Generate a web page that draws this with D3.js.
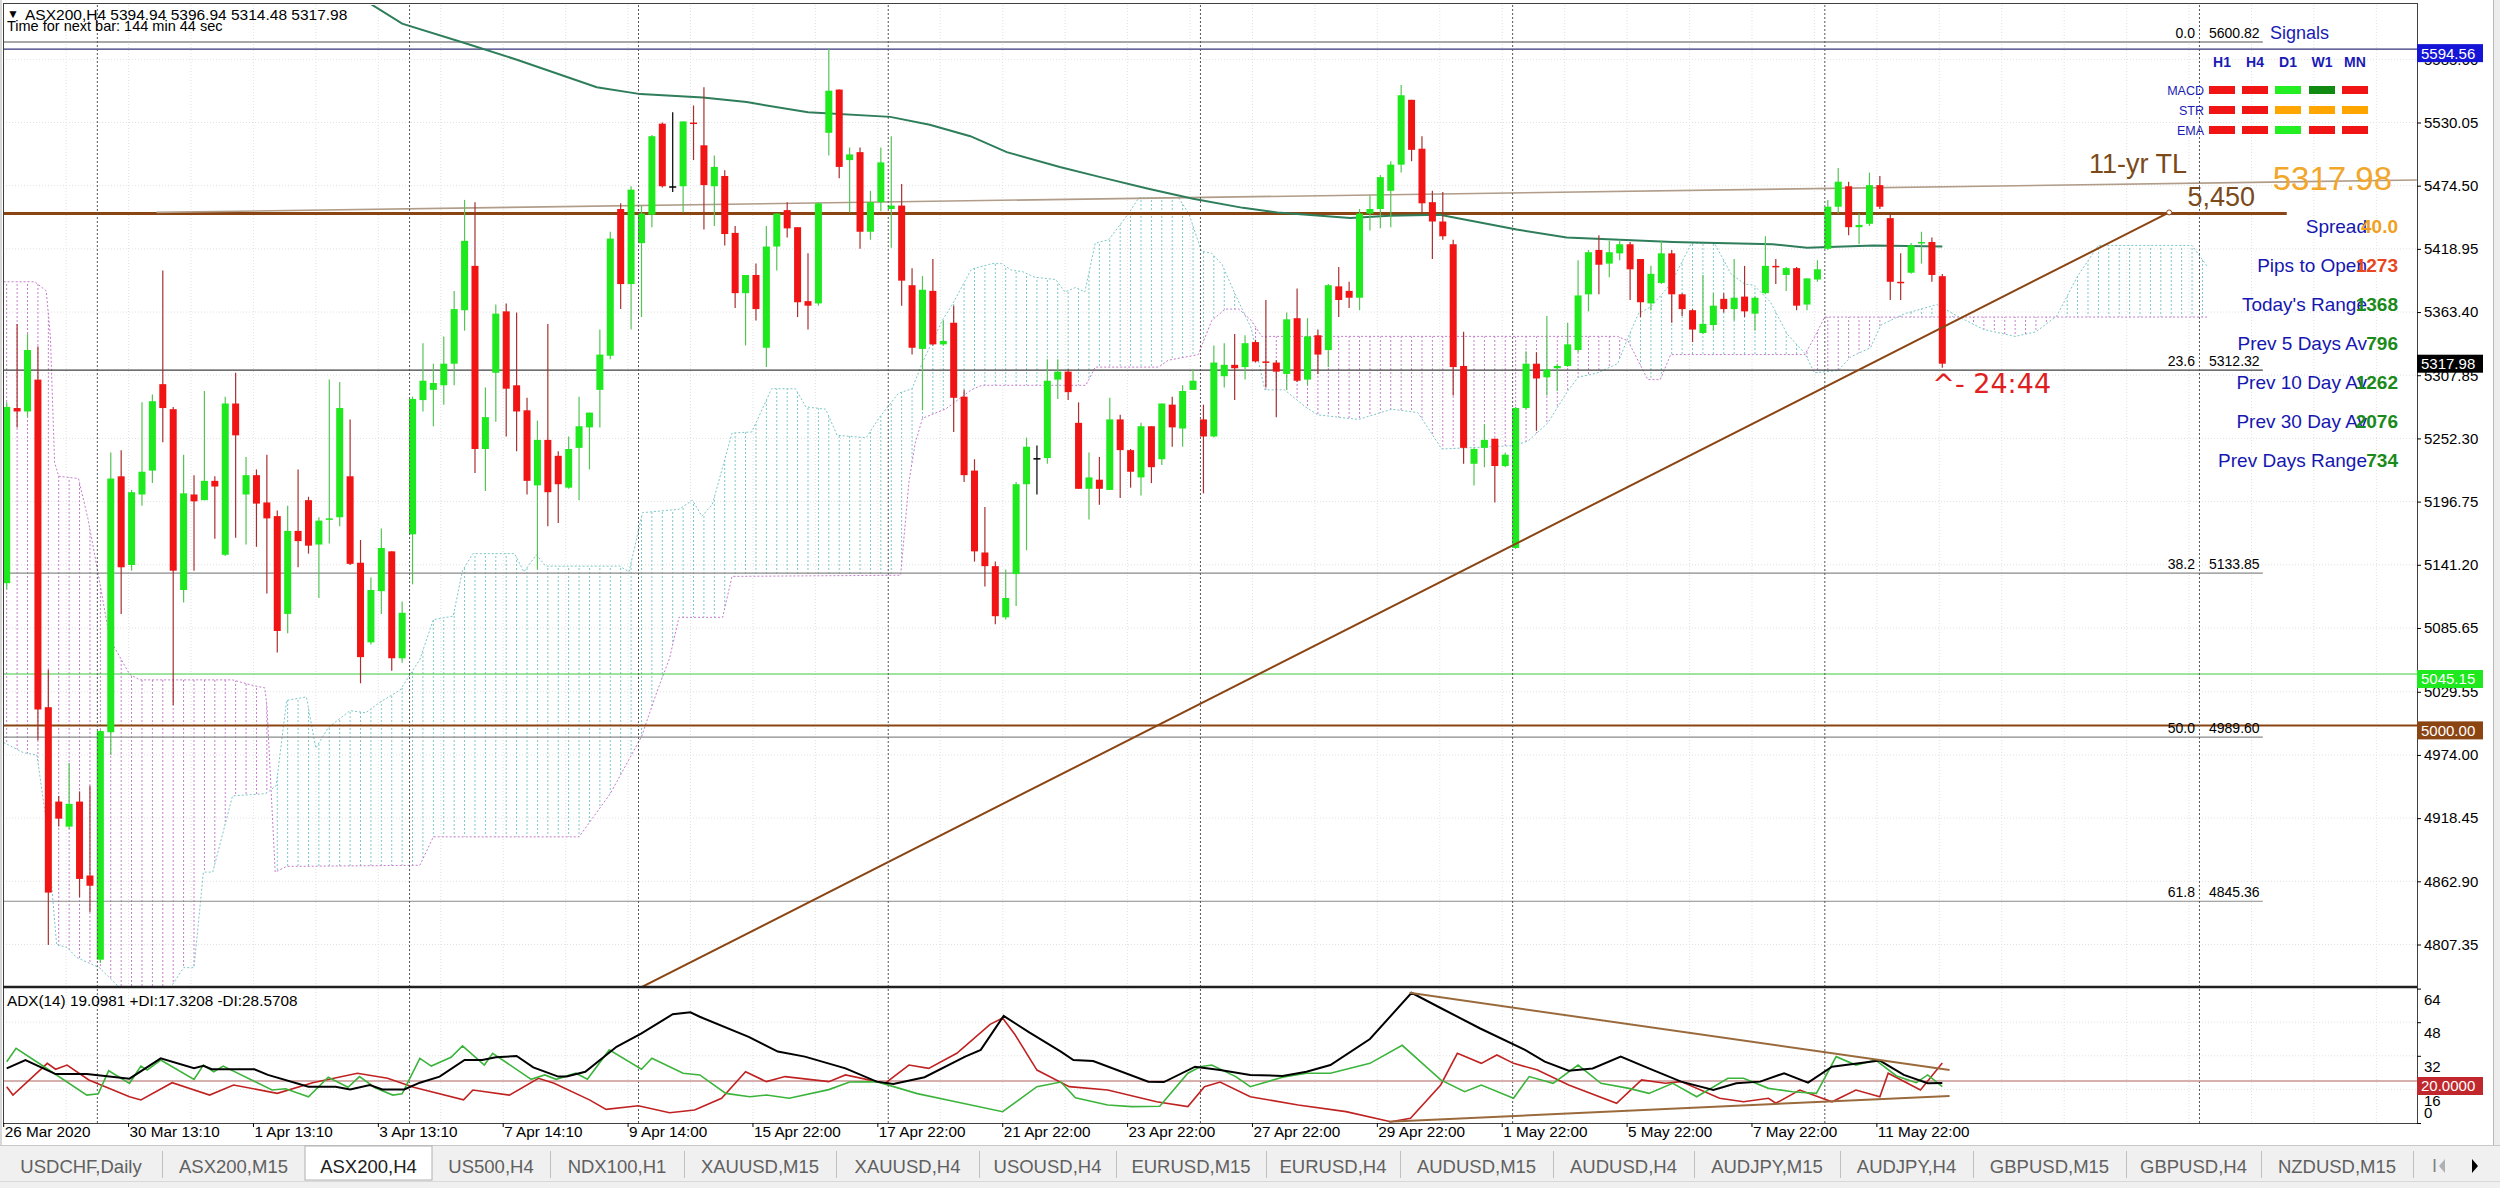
<!DOCTYPE html>
<html><head><meta charset="utf-8">
<script src="https://cdn.jsdelivr.net/npm/d3@7"></script>
<style>
body{margin:0;background:#fff;}
svg{display:block;font-family:"Liberation Sans",Arial,sans-serif;}
</style></head><body>
<svg id="c" width="2500" height="1188"></svg>
<script>
// ---------------- DATA ----------------
const open=[5125,5279,5276,5304,5016,4933,4911,4933,4868,4794,4994,5219,5141,5203,5224,5300,5278,5119,5203,5198,5215,5150,5283,5203,5220,5196,5184,5098,5171,5198,5159,5181,5183,5219,5143,5073,5118,5153,5059,5168,5286,5295,5299,5318,5365,5404,5243,5310,5364,5299,5277,5211,5251,5237,5209,5244,5262,5295,5325,5454,5388,5424,5449,5529,5474,5474,5530,5510,5474,5483,5433,5380,5396,5332,5421,5453,5438,5373,5371,5521,5559,5497,5504,5434,5460,5454,5457,5387,5331,5382,5335,5354,5289,5224,5152,5140,5095,5133,5212,5235,5235,5304,5311,5266,5208,5216,5207,5269,5242,5218,5263,5234,5282,5261,5295,5269,5254,5307,5317,5315,5337,5320,5319,5309,5358,5304,5343,5330,5386,5382,5376,5450,5454,5470,5493,5550,5507,5460,5443,5423,5316,5230,5244,5252,5228,5156,5279,5318,5306,5314,5316,5330,5379,5418,5406,5415,5423,5410,5371,5389,5415,5379,5365,5345,5352,5375,5366,5377,5362,5380,5404,5396,5402,5370,5392,5419,5456,5474,5438,5441,5475,5446,5390,5398,5424,5425,5394.94];
const high=[5284,5353,5344,5333,5049,4938,4967,4942,4947,4996,5240,5242,5207,5284,5291,5400,5280,5238,5220,5294,5219,5289,5310,5236,5225,5238,5189,5193,5225,5201,5183,5304,5302,5269,5163,5130,5173,5153,5109,5289,5336,5318,5342,5382,5462,5460,5297,5370,5371,5363,5288,5268,5353,5241,5254,5289,5275,5348,5434,5459,5474,5457,5519,5530,5539,5531,5545,5561,5501,5488,5439,5396,5406,5439,5450,5460,5438,5415,5460,5595,5559,5508,5508,5470,5508,5518,5476,5402,5395,5410,5356,5369,5295,5234,5192,5144,5137,5214,5253,5246,5322,5322,5313,5284,5240,5236,5288,5273,5243,5266,5263,5283,5289,5299,5313,5282,5334,5336,5344,5343,5339,5374,5321,5363,5384,5358,5348,5388,5403,5390,5454,5466,5484,5496,5563,5550,5518,5470,5469,5427,5346,5244,5265,5252,5240,5280,5329,5328,5360,5318,5354,5409,5418,5431,5426,5427,5425,5410,5404,5426,5418,5380,5366,5396,5380,5380,5410,5404,5377,5430,5410,5403,5403,5393,5409,5462,5490,5478,5450,5486,5483,5449,5415,5424,5434,5429,5396.94];
const low=[5120,5262,5271,4987,4807,4911,4909,4849,4836,4791,4974,5098,5136,5193,5213,5249,5018,5108,5136,5198,5164,5149,5165,5159,5157,5116,5064,5081,5139,5151,5112,5160,5175,5141,5037,5071,5098,5048,5055,5124,5276,5263,5282,5299,5347,5222,5206,5267,5254,5241,5203,5137,5175,5178,5208,5198,5225,5262,5322,5366,5348,5359,5438,5473,5469,5451,5497,5436,5439,5422,5367,5334,5356,5315,5400,5429,5359,5348,5369,5501,5481,5451,5419,5427,5452,5420,5369,5326,5277,5334,5334,5258,5214,5144,5122,5089,5093,5105,5154,5203,5230,5287,5286,5208,5181,5194,5207,5200,5209,5202,5213,5229,5245,5245,5295,5204,5253,5297,5286,5304,5319,5297,5271,5295,5302,5299,5309,5315,5359,5367,5365,5435,5437,5438,5486,5496,5450,5410,5427,5290,5230,5211,5227,5196,5227,5155,5278,5259,5290,5294,5315,5328,5364,5379,5394,5409,5374,5359,5365,5388,5354,5360,5337,5344,5347,5363,5356,5359,5347,5379,5388,5382,5365,5365,5390,5418,5450,5431,5423,5439,5454,5374,5374,5397,5406,5390,5314.48];
const close=[5280,5276,5330,5014,4853,4918,4931,4865,4859,4995,5217,5139,5205,5223,5285,5279,5136,5204,5197,5215,5210,5283,5255,5220,5195,5182,5083,5171,5162,5158,5180,5182,5279,5142,5060,5119,5156,5059,5099,5287,5303,5301,5318,5366,5426,5243,5271,5362,5296,5276,5215,5251,5205,5212,5243,5263,5275,5326,5428,5388,5471,5450,5518,5474,5474,5531,5529,5475,5491,5432,5380,5396,5366,5421,5450,5437,5372,5369,5459,5558,5491,5502,5434,5460,5495,5457,5391,5332,5383,5335,5338,5288,5220,5153,5140,5096,5112,5212,5245,5235,5303,5311,5293,5208,5218,5208,5269,5242,5223,5263,5227,5283,5262,5294,5303,5254,5319,5317,5314,5336,5320,5319,5311,5357,5303,5342,5326,5387,5374,5376,5450,5454,5482,5493,5554,5506,5459,5443,5430,5315,5244,5243,5251,5228,5238,5279,5318,5305,5313,5316,5335,5378,5416,5405,5416,5423,5401,5372,5397,5415,5379,5366,5348,5353,5369,5366,5376,5364,5376,5404,5403,5402,5369,5393,5401,5456,5478,5438,5440,5475,5456,5390,5389,5422,5425,5396,5317.98];

const timeIdx=[0,12,24,36,48,60,72,84,96,108,120,132,144,156,168,180];
const timeLabels=["26 Mar 2020","30 Mar 13:10","1 Apr 13:10","3 Apr 13:10","7 Apr 14:10","9 Apr 14:00","15 Apr 22:00","17 Apr 22:00","21 Apr 22:00","23 Apr 22:00","27 Apr 22:00","29 Apr 22:00","1 May 22:00","5 May 22:00","7 May 22:00","11 May 22:00"];
const priceTicks=[5585.60,5530.05,5474.50,5418.95,5363.40,5307.85,5252.30,5196.75,5141.20,5085.65,5029.55,4974.00,4918.45,4862.90,4807.35];
const adxTicks=[64,48,32,16,0];
const weekSep=[9,39,61,85,115,145,175,211];

const maLine=[[34.5,5637],[38,5617],[44,5600],[49.1,5585],[56.7,5561],[60.9,5555],[66.9,5552],[71.1,5548],[77,5539],[84.9,5535],[88.7,5528],[92.6,5518],[96.1,5504],[101.2,5491],[105.1,5482],[109.6,5472],[114,5463],[118.8,5455],[122.1,5451],[129.1,5446],[132.9,5448],[137.7,5449],[145.1,5436],[149.9,5429],[160.1,5425],[169.7,5423],[173,5420],[179.4,5422],[186,5421]];

const spanA=[[-0.3,4985],[1.6,4976],[2.9,4974],[3.8,4916],[4.8,4807],[5.8,4805],[6.7,4796],[8.9,4787],[10.9,4769],[15.7,4769],[17,4787],[18,4787],[18.9,4871],[19.8,4871],[21.7,4938],[24.9,4940],[25.9,4947],[26.9,5022],[28.8,5025],[29.7,4980],[30.9,4998],[33,5013],[34.5,5011],[35.8,5020],[37.8,5031],[39.7,5058],[41,5093],[42.9,5096],[43.8,5136],[44.8,5151],[48.8,5151],[49.7,5135],[50.9,5150],[51.8,5140],[58.9,5140],[59.8,5135],[61.1,5187],[64.6,5190],[65.9,5198],[66.8,5184],[67.8,5194],[69.7,5257],[71.6,5258],[73.5,5296],[75.8,5296],[76.8,5280],[78.7,5278],[79.8,5255],[82.6,5253],[83.8,5270],[85.7,5292],[87,5296],[88,5319],[89.9,5356],[90.8,5369],[92.7,5401],[94.7,5406],[95.6,5406],[96.6,5400],[97.6,5399],[98.8,5394],[100.8,5392],[101.7,5381],[102.7,5385],[103.6,5381],[104.6,5424],[105.9,5427],[107.8,5450],[108.8,5464],[112.6,5464],[113.6,5450],[114.8,5417],[115.8,5415],[116.8,5405],[118,5380],[119.6,5349],[120.9,5295],[122.8,5295],[124.8,5280],[126,5273],[129.9,5269],[133.1,5278],[135.6,5275],[136.9,5257],[137.9,5243],[144.9,5246],[146.2,5250],[148.1,5266],[150,5294],[151,5306],[152.9,5310],[154.8,5318],[155.8,5341],[156.8,5362],[158,5368],[159.9,5388],[161.9,5424],[164.1,5424],[165.7,5397],[167,5388],[167.9,5387],[169.5,5372],[171.1,5344],[172.8,5327],[173.7,5310],[176,5312],[177.2,5324],[179.1,5332],[180.1,5352],[182.4,5362],[185.5,5370],[187.4,5360],[190,5348],[193,5342],[195,5346],[197,5360],[199,5395],[201,5422],[210,5422],[211.5,5403]];
const spanB=[[-0.3,5390],[2.7,5390],[3.8,5382],[4.2,5342],[4.6,5231],[5,5219],[6.9,5217],[7.8,5182],[8.8,5133],[9.9,5076],[11.8,5045],[12.8,5040],[21.7,5040],[23.7,5035],[24.8,5033],[25,5018],[25.8,4871],[26.9,4876],[39.7,4877],[41,4902],[55,4902],[58,4940],[61,4990],[62.5,5030],[63.7,5059],[64.6,5095],[68.8,5095],[69.7,5131],[85.9,5132],[86.7,5214],[87.3,5248],[88,5270],[90.2,5278],[92.7,5295],[93.7,5299],[103.7,5299],[104.6,5315],[110.7,5315],[111.6,5321],[114.5,5326],[115.8,5356],[117.1,5366],[118.4,5366],[119.6,5356],[120.6,5342],[154.8,5342],[155.8,5338],[157.7,5304],[158.9,5304],[159.9,5326],[172.8,5326],[173.7,5341],[174.7,5359],[211.5,5359]];

const adxLine=[[0,26],[1.8,30],[4.7,23.3],[7.7,23.3],[11.8,21.1],[14.8,30.8],[18,26.1],[18.9,27.2],[19.7,25.6],[23.8,25.6],[25.1,22.9],[29,17.3],[31.6,17.3],[33,16],[34.9,18.1],[36.1,16],[38.2,16],[39.7,19.2],[41.6,22.1],[44,30],[45.7,30],[47,31.3],[49,31.9],[50.6,26.5],[53,22.1],[53.8,22.1],[55.6,24.4],[58.6,36.3],[61,42.7],[64,51.8],[65.7,52.7],[66.6,50.6],[71.3,41],[74.1,34],[76.7,31.6],[80.6,26],[83.6,19.7],[85.2,18.6],[88.2,21.8],[92.1,31.6],[93.6,34.8],[95.8,51],[98.3,43],[101.3,34],[102.5,30],[104.4,29.5],[109.7,19.7],[111.2,19.5],[114.2,26.8],[116.6,25.2],[119.5,22.9],[122.6,22.4],[124.9,24.4],[127.2,27.6],[131,40],[135,62],[137.7,55],[141.6,45],[145.9,34.8],[147.8,29.2],[150.1,24.9],[152.4,26],[155.1,31.6],[157.8,26],[160.9,19.7],[164,15.7],[166.2,18.9],[168.5,19.7],[170.8,23.7],[173.1,19.2],[175.4,26.8],[180,29.7],[182.3,22.9],[184.6,18.9],[186,19.1]];
const plusDI=[[0,29.2],[0.9,35.6],[3.2,28.1],[7.7,13.3],[8.8,13.9],[9.8,24.9],[11.8,18.9],[12.9,27.1],[13.5,25.2],[14.8,30],[18,20.8],[18.9,27.6],[19.9,24.4],[20.8,27.1],[25.5,15.7],[26.8,16.3],[29,12.5],[30.9,21.8],[32.8,17],[33.9,22.1],[35.4,16.8],[37.1,13.3],[38,13.9],[39.7,30.8],[40.8,27.1],[42.7,31.3],[43.8,36.7],[45.9,27.6],[46.7,33.2],[50.4,20.8],[51.7,22.9],[52.8,20.8],[54.7,23.7],[55.8,20.8],[57.9,34.8],[61,25.6],[62,30.8],[65,23.7],[66.6,22.9],[69.1,14.1],[71.4,12.5],[73,13.3],[75.2,11.8],[79,15.9],[81,19.5],[83.6,19.7],[87.5,14],[91.3,10],[95.7,5.4],[99,17.3],[101.3,19.5],[102.7,12],[105.8,8.6],[108.1,7.8],[110.8,8],[113.5,23.7],[114.7,26.8],[115.8,27.6],[118.1,22.1],[119.5,17.3],[122.6,21.8],[124.9,23.7],[127.2,23.7],[131,28.4],[134.1,37],[137.8,20.5],[140.1,14.9],[141.7,18.1],[144.8,11.8],[146.3,22.1],[148.6,18.9],[151,27.6],[153.2,18.9],[155.9,16.5],[157.8,14.1],[160.1,18.9],[162.4,12.5],[165.4,21.3],[166.9,21.3],[169.3,16.5],[171.6,14.9],[173.9,14.1],[175.8,31.6],[177.7,27.6],[179.6,30],[181.6,22.4],[183.5,19.2],[184.6,22.9],[186,17.3]];
const minusDI=[[0,17.3],[0.6,13.3],[3.9,28.4],[4.7,25.6],[5.8,27.6],[7.9,20.5],[11.8,12.5],[12.9,11],[15.9,19.2],[19.5,13.3],[21.8,18.1],[26,14.1],[29.4,19.2],[33.7,23.7],[36.6,21.3],[39.1,17],[43.9,11],[44.8,15.7],[48.3,13.3],[51.1,21.3],[52.6,18.9],[56,11],[57.6,6.5],[60.7,8.2],[63.7,4.9],[66.1,6.2],[68.7,11.8],[71,24.4],[73,19.7],[74.8,22.1],[79,19.7],[80.6,22.9],[84.4,18.9],[86.7,27.6],[88.6,26],[91.3,33.2],[94.5,47],[95.7,50],[96.9,42],[99,25.2],[102.1,17.3],[105.8,15.7],[110.5,10.1],[113.5,7.8],[115.1,17.3],[116.6,19.5],[119.5,12.5],[124.1,8.6],[128.7,5.4],[133,0.6],[134.9,2.2],[137.8,18.1],[139.4,33.2],[141.7,28.4],[143.2,32.4],[144.8,28.4],[147.1,25.2],[150.1,18.1],[154.7,9.4],[157.1,20.5],[159.4,18.9],[160.9,19.7],[164.6,11.8],[166.9,10.1],[169.3,11.8],[170,9.4],[172.3,15.7],[175.4,10.1],[177.7,15.7],[180,12.5],[180.8,23.7],[183.9,15.7],[186,28.6]];
const adxUpperTL=[[134.8,62],[186.7,25.2]];
const adxLowerTL=[[132.8,0.6],[186.7,12.9]];

const fibLevels=["0.0","23.6","38.2","50.0","61.8"];
const fibPrices=[5600.82,5312.32,5133.85,4989.60,4845.36];
const trendLine=[[60.6,4768],[207.8,5451]];
const elevenYrTL=[[14.4,5451],[231.6,5479.5]];

const infoLabels=["Spread","Pips to Open","Today's Range","Prev 5 Days Av","Prev 10 Day Av","Prev 30 Day Av","Prev Days Range"];
const infoValues=["40.0","1273","1368","796","1262","2076","734"];
const infoColors=["#f0a020","#e8461c","#1a8a1a","#1a8a1a","#1a8a1a","#1a8a1a","#1a8a1a"];
const sigCols=["H1","H4","D1","W1","MN"];
const sigRows=["MACD","STR","EMA"];
const sigState=[["dn","dn","up","upStrong","dn"],["dn","dn","flat","flat","flat"],["dn","dn","up","dn","dn"]];
const tabNames=["USDCHF,Daily","ASX200,M15","ASX200,H4","US500,H4","NDX100,H1","XAUUSD,M15","XAUUSD,H4","USOUSD,H4","EURUSD,M15","EURUSD,H4","AUDUSD,M15","AUDUSD,H4","AUDJPY,M15","AUDJPY,H4","GBPUSD,M15","GBPUSD,H4","NZDUSD,M15"];

// ---------------- LAYOUT ----------------
const W=2500,H=1188,L=3,R=2417,T=5,MB=987,AB=1123;
const x=d3.scaleLinear().domain([0,186]).range([6.7,1942.3]);
const y=d3.scaleLinear().domain([4807.35,5530.05]).range([944.5,122.5]);
const ya=d3.scaleLinear().domain([0,64]).range([AB,988.6]);
const svg=d3.select("#c");
svg.append("rect").attr("width",W).attr("height",H).attr("fill","#fff");
const defs=svg.append("defs");
defs.append("clipPath").attr("id","mainClip").append("rect").attr("x",L).attr("y",T).attr("width",R-L).attr("height",MB-T);
defs.append("clipPath").attr("id","adxClip").append("rect").attr("x",L).attr("y",MB+1).attr("width",R-L).attr("height",AB-MB-1);

function pattern(id,color){
  const p=defs.append("pattern").attr("id",id).attr("patternUnits","userSpaceOnUse")
    .attr("x",x(0)-0.5).attr("y",0).attr("width",x(1)-x(0)).attr("height",4);
  p.append("rect").attr("x",0).attr("y",0).attr("width",1).attr("height",2).attr("fill",color);
}
const TEAL="#7cc6c6", VIOLET="#c47ccc";
pattern("tealPat",TEAL); pattern("violPat",VIOLET);
function polyTo(pts,edge){
  const P=pts.map(d=>[x(d[0]),y(d[1])]);
  return "M"+P.map(p=>p[0].toFixed(1)+","+p[1].toFixed(1)).join("L")+`L${P[P.length-1][0]},${edge}L${P[0][0]},${edge}Z`;
}
defs.append("clipPath").attr("id","belowA").append("path").attr("d",polyTo(spanA,3000));
defs.append("clipPath").attr("id","aboveA").append("path").attr("d",polyTo(spanA,-3000));
defs.append("clipPath").attr("id","belowB").append("path").attr("d",polyTo(spanB,3000));
defs.append("clipPath").attr("id","aboveB").append("path").attr("d",polyTo(spanB,-3000));

// grid
const grid=svg.append("g").attr("stroke","#e2e2e2").attr("stroke-dasharray","1,2");
priceTicks.forEach(v=>grid.append("line").attr("x1",L).attr("x2",R).attr("y1",y(v)).attr("y2",y(v)));
[48,32,16].forEach(v=>grid.append("line").attr("x1",L).attr("x2",R).attr("y1",ya(v)).attr("y2",ya(v)));
for(let i=0;i<=234;i+=6){const gx=x(i)-3; if(gx>L&&gx<R) grid.append("line").attr("x1",gx).attr("x2",gx).attr("y1",T).attr("y2",AB);}

// main panel content
const main=svg.append("g").attr("clip-path","url(#mainClip)");
main.append("g").attr("clip-path","url(#belowA)").append("g").attr("clip-path","url(#aboveB)")
  .append("rect").attr("x",0).attr("y",0).attr("width",W).attr("height",H).attr("fill","url(#tealPat)");
main.append("g").attr("clip-path","url(#aboveA)").append("g").attr("clip-path","url(#belowB)")
  .append("rect").attr("x",0).attr("y",0).attr("width",W).attr("height",H).attr("fill","url(#violPat)");
const ln=d3.line().x(d=>x(d[0])).y(d=>y(d[1]));
main.append("path").attr("d",ln(spanA)).attr("fill","none").attr("stroke",TEAL).attr("stroke-dasharray","2,2");
main.append("path").attr("d",ln(spanB)).attr("fill","none").attr("stroke",VIOLET).attr("stroke-dasharray","2,2");

fibPrices.forEach((p,i)=>main.append("line").attr("x1",L).attr("x2",x(216.8)).attr("y1",y(p)).attr("y2",y(p))
  .attr("stroke",i===0?"#a8a8a8":(i===1?"#404040":"#8a8a8a")).attr("stroke-width",i===0?2:1.2));
main.append("line").attr("x1",L).attr("x2",R).attr("y1",y(5594.56)).attr("y2",y(5594.56)).attr("stroke","#34347a").attr("stroke-width",1.2);
main.append("line").attr("x1",L).attr("x2",R).attr("y1",y(5045.15)).attr("y2",y(5045.15)).attr("stroke","#3ec83e").attr("stroke-width",1);
main.append("line").attr("x1",L).attr("x2",R).attr("y1",y(5000)).attr("y2",y(5000)).attr("stroke","#8b4513").attr("stroke-width",2);
main.append("line").attr("x1",L).attr("x2",x(219.1)).attr("y1",y(5450)).attr("y2",y(5450)).attr("stroke","#8b4513").attr("stroke-width",3);
main.append("path").attr("d",ln(elevenYrTL)).attr("stroke","#b09c88").attr("stroke-width",1.6).attr("fill","none");

weekSep.forEach(i=>svg.append("line").attr("x1",x(i)-3).attr("x2",x(i)-3).attr("y1",T).attr("y2",AB)
  .attr("stroke","#555").attr("stroke-dasharray","2,2").attr("stroke-width",1));

main.append("path").attr("d",ln(maLine)).attr("fill","none").attr("stroke","#2e7d5b").attr("stroke-width",2);

const cg=main.append("g");
open.forEach((o,i)=>{
  const c=close[i], up=c>o, doji=Math.abs(c-o)<0.5;
  const wc=doji?"#000":(up?"#55c455":"#a83030"), bc=doji?"#000":(up?"#1ee81e":"#f01414");
  cg.append("line").attr("x1",x(i)).attr("x2",x(i)).attr("y1",y(high[i])).attr("y2",y(low[i])).attr("stroke",wc).attr("stroke-width",1.2);
  const top=y(Math.max(o,c)), bot=y(Math.min(o,c));
  cg.append("rect").attr("x",x(i)-3.5).attr("y",top).attr("width",7).attr("height",Math.max(1.5,bot-top)).attr("fill",bc);
});

main.append("path").attr("d",ln(trendLine)).attr("stroke","#8b4513").attr("stroke-width",2).attr("fill","none");
main.append("circle").attr("cx",x(trendLine[1][0])).attr("cy",y(trendLine[1][1])).attr("r",2.5).attr("fill","#fff").attr("stroke","#8b4513");

// ADX panel
const adx=svg.append("g").attr("clip-path","url(#adxClip)");
const la=d3.line().x(d=>x(d[0])).y(d=>ya(d[1]));
adx.append("line").attr("x1",L).attr("x2",R).attr("y1",ya(20)).attr("y2",ya(20)).attr("stroke","#c89494").attr("stroke-width",1.6);
adx.append("path").attr("d",la(minusDI)).attr("fill","none").attr("stroke","#c02222").attr("stroke-width",1.6);
adx.append("path").attr("d",la(plusDI)).attr("fill","none").attr("stroke","#3cb43c").attr("stroke-width",1.6);
adx.append("path").attr("d",la(adxLine)).attr("fill","none").attr("stroke","#000").attr("stroke-width",2);
adx.append("path").attr("d",la(adxUpperTL)).attr("fill","none").attr("stroke","#9a6a3c").attr("stroke-width",2);
adx.append("path").attr("d",la(adxLowerTL)).attr("fill","none").attr("stroke","#9a6a3c").attr("stroke-width",2);

// frames
const fr=svg.append("g").attr("stroke","#404040").attr("fill","none");
fr.append("rect").attr("x",L+0.5).attr("y",3.5).attr("width",R-L).attr("height",AB-3);
fr.append("line").attr("x1",L).attr("x2",R).attr("y1",MB).attr("y2",MB).attr("stroke","#202020").attr("stroke-width",2.5);
svg.append("rect").attr("x",2493).attr("y",0).attr("width",7).attr("height",1145).attr("fill","#ececec");
svg.append("line").attr("x1",2493.5).attr("x2",2493.5).attr("y1",0).attr("y2",1145).attr("stroke","#b8b8b8");
svg.append("rect").attr("x",0).attr("y",0).attr("width",2).attr("height",1145).attr("fill","#d8d8d8");

// price axis
const ax=svg.append("g").attr("transform",`translate(${R},0)`)
  .call(d3.axisRight(y).tickValues(priceTicks).tickFormat(d=>d.toFixed(2)).tickSize(4).tickPadding(3));
ax.select(".domain").remove();
ax.selectAll("text").attr("font-size",15).attr("font-family","Liberation Sans, Arial").attr("fill","#000");
ax.selectAll("line").attr("stroke","#000");
const ax2=svg.append("g").attr("transform",`translate(${R},0)`)
  .call(d3.axisRight(ya).tickValues(adxTicks).tickSize(4).tickPadding(3));
ax2.select(".domain").remove();
ax2.selectAll("text").attr("font-size",15).attr("font-family","Liberation Sans, Arial").attr("fill","#000")
  .attr("dy",d=>d===0?"-0.35em":"1.05em");
ax2.selectAll("line").attr("stroke","#000");

function box(yy,bg,txt){
  svg.append("rect").attr("x",R).attr("y",yy-9).attr("width",66).attr("height",18).attr("fill",bg);
  svg.append("text").attr("x",R+4).attr("y",yy).attr("dy","0.36em").attr("font-size",15).attr("fill","#fff").text(txt);
}
box(y(5594.56)+4,"#1515d8","5594.56");
box(y(5317.98),"#000","5317.98");
box(y(5045.15)+5,"#1ee81e","5045.15");
box(y(5000)+5,"#8b4513","5000.00");
box(ya(20)+5,"#c0282d","20.0000");

// time axis
const tx=svg.append("g").attr("transform",`translate(0,${AB})`)
  .call(d3.axisBottom(x).tickValues(timeIdx).tickFormat((d,i)=>timeLabels[i]).tickSize(4));
tx.select(".domain").remove();
tx.selectAll(".tick").attr("transform",d=>`translate(${x(d)-3},0)`);
tx.selectAll("text").attr("text-anchor","start").attr("x",1).attr("y",3).attr("dy","0.71em")
  .attr("font-size",15.3).attr("font-family","Liberation Sans, Arial").attr("fill","#000");
tx.selectAll("line").attr("stroke","#000");

fibPrices.forEach((p,i)=>{
  svg.append("text").attr("x",2195).attr("y",y(p)-9).attr("dy","0.36em").attr("text-anchor","end").attr("font-size",14).text(fibLevels[i]);
  svg.append("text").attr("x",2209).attr("y",y(p)-9).attr("dy","0.36em").attr("font-size",14).text(p.toFixed(2));
});

// header
svg.append("text").attr("x",7).attr("y",14).attr("dy","0.36em").attr("font-size",12).text("\u25BC");
svg.append("text").attr("x",25).attr("y",14).attr("dy","0.36em").attr("font-size",15.5).text("ASX200,H4 5394.94 5396.94 5314.48 5317.98");
svg.append("text").attr("x",7).attr("y",26).attr("dy","0.36em").attr("font-size",14.5).text("Time for next bar: 144 min 44 sec");
svg.append("text").attr("x",7).attr("y",1000).attr("dy","0.36em").attr("font-size",15.3).text("ADX(14) 19.0981 +DI:17.3208 -DI:28.5708");

// signals panel
svg.append("text").attr("x",2270).attr("y",33).attr("dy","0.36em").attr("font-size",18).attr("fill","#1a1ab4").text("Signals");
const colX=[2222,2255,2288,2322,2355];
sigCols.forEach((c,j)=>svg.append("text").attr("x",colX[j]).attr("y",62).attr("dy","0.36em").attr("text-anchor","middle")
  .attr("font-size",14).attr("font-weight","bold").attr("fill","#1a1ab4").text(c));
const sigColor={dn:"#f01414",up:"#22ee22",upStrong:"#108a10",flat:"#ffa500"};
sigRows.forEach((r,k)=>{
  const yy=90+k*20;
  svg.append("text").attr("x",2204).attr("y",yy).attr("dy","0.36em").attr("text-anchor","end").attr("font-size",12.5).attr("fill","#1a1ab4").text(r);
  sigState[k].forEach((s,j)=>svg.append("rect").attr("x",colX[j]-13).attr("y",yy-4).attr("width",26).attr("height",8).attr("fill",sigColor[s]));
});

// annotations
svg.append("text").attr("x",2187).attr("y",163).attr("dy","0.36em").attr("text-anchor","end").attr("font-size",27).attr("fill","#7a4a1a").text("11-yr TL");
svg.append("text").attr("x",2255).attr("y",196).attr("dy","0.36em").attr("text-anchor","end").attr("font-size",27).attr("fill","#7a4a1a").text("5,450");
svg.append("text").attr("x",2392).attr("y",178).attr("dy","0.36em").attr("text-anchor","end").attr("font-size",33).attr("fill","#f2a62a").text("5317.98");
infoLabels.forEach((t,i)=>{
  const yy=226+i*39;
  svg.append("text").attr("x",2367).attr("y",yy).attr("dy","0.36em").attr("text-anchor","end").attr("font-size",19).attr("fill","#1616b0").text(t);
  svg.append("text").attr("x",2398).attr("y",yy).attr("dy","0.36em").attr("text-anchor","end").attr("font-size",19).attr("font-weight","bold").attr("fill",infoColors[i]).text(infoValues[i]);
});
svg.append("text").attr("x",x(186)-10).attr("y",383).attr("dy","0.36em").attr("font-size",27).attr("font-family","DejaVu Sans").attr("fill","#e02020").text("^- 24:44");

// tabs
svg.append("rect").attr("x",0).attr("y",1145).attr("width",W).attr("height",43).attr("fill","#f0f0f0");
svg.append("line").attr("x1",0).attr("x2",W).attr("y1",1145.5).attr("y2",1145.5).attr("stroke","#c8c8c8");
const tabEdges=[0,162,305,432,550,684,836,979,1116,1266,1400,1553,1694,1840,1973,2126,2261,2413];
tabNames.forEach((t,i)=>{
  const a=tabEdges[i], b=tabEdges[i+1], active=(i===2);
  if(active) svg.append("rect").attr("x",a).attr("y",1146).attr("width",b-a).attr("height",34).attr("fill","#fff").attr("stroke","#b0b0b0");
  else svg.append("line").attr("x1",b+0.5).attr("x2",b+0.5).attr("y1",1151).attr("y2",1178).attr("stroke","#c0c0c0");
  svg.append("text").attr("x",(a+b)/2).attr("y",1166).attr("dy","0.36em").attr("text-anchor","middle").attr("font-size",18.5)
    .attr("fill",active?"#202020":"#606060").text(t);
});
svg.append("text").attr("x",2432).attr("y",1166).attr("dy","0.36em").attr("font-size",18).attr("fill","#808080").text("I");
svg.append("path").attr("d","M2445,1159 L2439,1166 L2445,1173Z").attr("fill","#b0b0b0");
svg.append("path").attr("d","M2472,1159 L2478,1166 L2472,1173Z").attr("fill","#000");
svg.append("line").attr("x1",0).attr("x2",W).attr("y1",1181.5).attr("y2",1181.5).attr("stroke","#d8d8d8");
</script>
</body></html>
